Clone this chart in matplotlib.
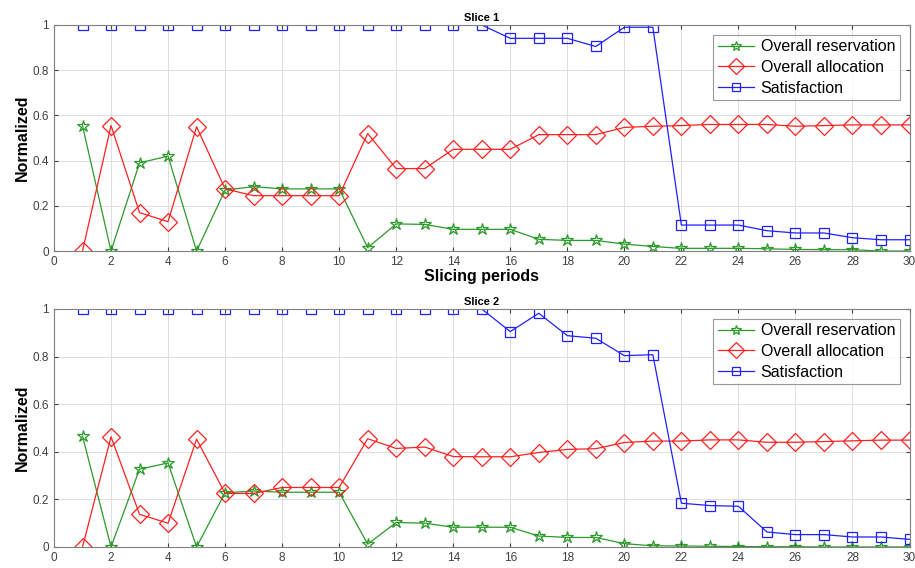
import numpy as np
import matplotlib
matplotlib.use("Agg")
import matplotlib.pyplot as plt

plt.rcParams["font.family"] = ["Liberation Sans", "DejaVu Sans"]

periods = list(range(1, 31))

# Slice 1
res1 = [0.555, 0.0, 0.39, 0.42, 0.0, 0.27, 0.285, 0.275, 0.275, 0.275,
        0.015, 0.12, 0.118, 0.096, 0.096, 0.096, 0.052, 0.047, 0.047, 0.031,
        0.02, 0.012, 0.012, 0.012, 0.01, 0.007, 0.006, 0.006, 0.0, 0.0]
alloc1 = [0.0, 0.555, 0.17, 0.13, 0.55, 0.275, 0.245, 0.245, 0.245, 0.245,
          0.52, 0.365, 0.365, 0.45, 0.45, 0.45, 0.515, 0.515, 0.515, 0.547,
          0.552, 0.555, 0.56, 0.56, 0.56, 0.552, 0.555, 0.558, 0.558, 0.558]
sat1 = [1.0] * 15 + [0.941, 0.941, 0.941, 0.905, 0.99, 0.99,
                     0.115, 0.115, 0.115, 0.09, 0.08, 0.08, 0.059, 0.05, 0.05]

# Slice 2
res2 = [0.466, 0.0, 0.327, 0.353, 0.0, 0.228, 0.235, 0.23, 0.23, 0.23,
        0.012, 0.103, 0.1, 0.083, 0.083, 0.083, 0.046, 0.04, 0.04, 0.014,
        0.005, 0.004, 0.003, 0.002, 0.001, 0.001, 0.0, 0.0, 0.0, 0.0]
alloc2 = [0.0, 0.463, 0.137, 0.1, 0.453, 0.225, 0.225, 0.25, 0.25, 0.25,
          0.455, 0.414, 0.42, 0.38, 0.379, 0.379, 0.397, 0.41, 0.413, 0.439,
          0.445, 0.445, 0.45, 0.45, 0.44, 0.44, 0.443, 0.446, 0.449, 0.449]
sat2 = [1.0] * 15 + [0.905, 0.982, 0.888, 0.877, 0.804, 0.808,
                     0.184, 0.174, 0.171, 0.063, 0.052, 0.052, 0.042, 0.042, 0.032]

labels = ["Overall reservation", "Overall allocation", "Satisfaction"]
GREEN, RED, BLUE = "#2a9a2a", "#ff2020", "#2020ff"

fig = plt.figure(figsize=(9.15, 5.68), dpi=100)
ax1 = fig.add_axes([0.059, 0.558, 0.935, 0.398])
ax2 = fig.add_axes([0.059, 0.037, 0.935, 0.419])


def panel(ax, res, alloc, sat, title):
    ax.plot(periods, res, color=GREEN, lw=0.9, marker="*", ms=9,
            mfc="none", mec=GREEN, mew=0.9, label=labels[0])
    ax.plot(periods, alloc, color=RED, lw=0.9, marker="D", ms=9,
            mfc="none", mec=RED, mew=0.9, label=labels[1])
    ax.plot(periods, sat, color=BLUE, lw=0.9, marker="s", ms=7,
            mfc="none", mec=BLUE, mew=0.9, label=labels[2])
    ax.set_xlim(0, 30)
    ax.set_ylim(0, 1)
    ax.set_xticks(range(0, 31, 2))
    ax.set_yticks([0, 0.2, 0.4, 0.6, 0.8, 1])
    ax.set_yticklabels(["0", "0.2", "0.4", "0.6", "0.8", "1"])
    ax.grid(True, color="#dddddd", lw=0.7)
    ax.set_axisbelow(True)
    ax.tick_params(direction="in", labelsize=8.5, colors="#404040",
                   top=True, right=True, length=3)
    for s in ax.spines.values():
        s.set_color("#808080")
    ax.set_ylabel("Normalized", fontsize=11.5, fontweight="bold", labelpad=2)
    ax.set_title(title, fontsize=8, fontweight="bold", pad=3)
    leg = ax.legend(loc="upper right", fontsize=11.5, frameon=True, fancybox=False,
                    edgecolor="#808080", borderpad=0.3, labelspacing=0.35,
                    handlelength=2.3, handletextpad=0.4, borderaxespad=0.6,
                    markerscale=0.85)
    leg.get_frame().set_linewidth(0.8)


panel(ax1, res1, alloc1, sat1, "Slice 1")
panel(ax2, res2, alloc2, sat2, "Slice 2")
ax1.set_xlabel("Slicing periods", fontsize=11.5, fontweight="bold", labelpad=1)

fig.savefig("out.png", dpi=100)
